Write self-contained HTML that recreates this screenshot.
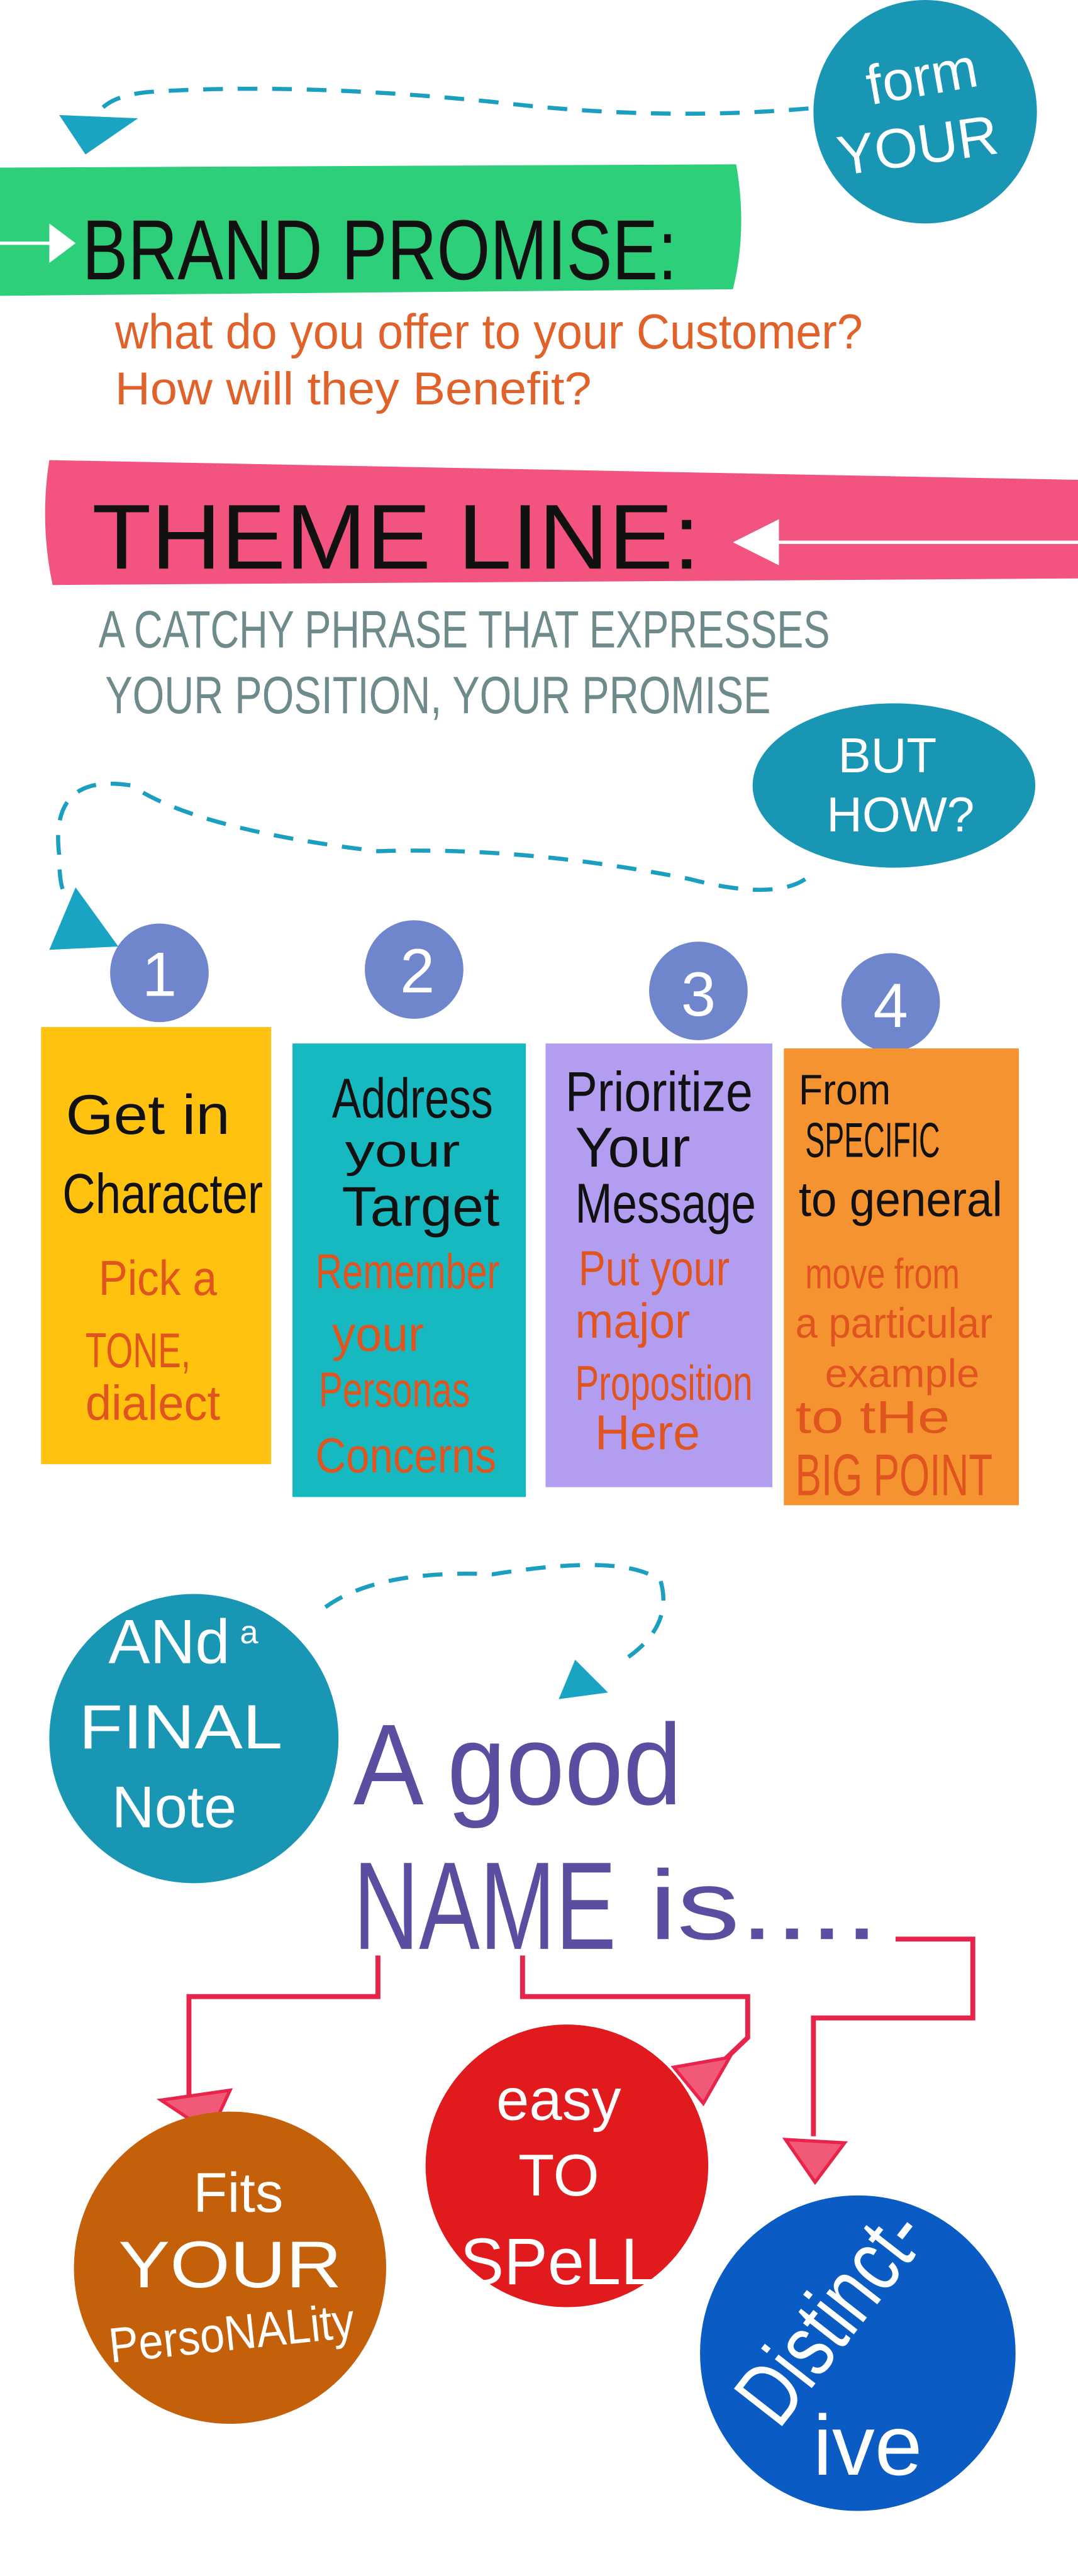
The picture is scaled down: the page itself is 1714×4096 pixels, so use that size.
<!DOCTYPE html>
<html><head><meta charset="utf-8">
<style>
html,body{margin:0;padding:0;background:#fff;}
svg{display:block;}
text{font-family:"Liberation Sans",sans-serif;}
</style></head>
<body>
<svg width="1714" height="4096" viewBox="0 0 656 1567.6" preserveAspectRatio="none" xmlns="http://www.w3.org/2000/svg">
<rect width="656" height="1568" fill="#fff"/>

<circle cx="563" cy="68" r="68" fill="#1a96b5"/>
<text x="563" y="58" fill="#fff" font-size="34" text-anchor="middle" transform="rotate(-10 563 58)">form</text>
<text x="560" y="100" fill="#fff" font-size="34" text-anchor="middle" transform="rotate(-8 560 100)">YOUR</text>
<path d="M492 66 Q400 74 300 62 Q180 50 90 56 Q70 58 62 66" fill="none" stroke="#1a9fc0" stroke-width="2.5" stroke-dasharray="12 9"/>
<polygon points="36,70 84,72 52,94" fill="#1aa4c4"/>

<path d="M0 102 L448 100 Q455 140 446 176 L0 180 Z" fill="#2ecf7a"/>
<line x1="0" y1="148" x2="34" y2="148" stroke="#fff" stroke-width="2"/>
<polygon points="30,136 46,148 30,160" fill="#fff"/>
<text x="50" y="170" font-size="52" fill="#111" textLength="362" lengthAdjust="spacingAndGlyphs">BRAND PROMISE:</text>
<text x="70" y="212" font-size="30" fill="#e0622a" textLength="455" lengthAdjust="spacingAndGlyphs">what do you offer to your Customer?</text>
<text x="70" y="246" font-size="28" fill="#e0622a" textLength="290" lengthAdjust="spacingAndGlyphs">How will they Benefit?</text>

<path d="M30 280 L656 292 L656 352 L32 356 Q24 318 30 280 Z" fill="#f2547f"/>
<text x="56" y="346" font-size="56" fill="#111" textLength="370" lengthAdjust="spacingAndGlyphs">THEME LINE:</text>
<polygon points="446,330 474,316 474,344" fill="#fff"/>
<line x1="474" y1="330" x2="656" y2="330" stroke="#fff" stroke-width="2"/>
<text x="60" y="394" font-size="32" fill="#6e8a8a" textLength="445" lengthAdjust="spacingAndGlyphs">A CATCHY PHRASE THAT EXPRESSES</text>
<text x="64" y="434" font-size="32" fill="#6e8a8a" textLength="405" lengthAdjust="spacingAndGlyphs">YOUR POSITION, YOUR PROMISE</text>

<ellipse cx="544" cy="478" rx="86" ry="50" fill="#1a96b5"/>
<text x="540" y="470" font-size="30" fill="#fff" text-anchor="middle">BUT</text>
<text x="548" y="506" font-size="30" fill="#fff" text-anchor="middle">HOW?</text>
<path d="M490 535 Q470 548 420 535 Q320 515 230 518 Q120 505 80 478 Q30 470 36 520 Q36 540 40 545" fill="none" stroke="#1a9fc0" stroke-width="2.5" stroke-dasharray="12 9"/>
<polygon points="46,540 72,576 30,578" fill="#1aa4c4"/>

<circle cx="97" cy="592" r="30" fill="#6f86cc"/>
<text x="97" y="606" font-size="38" fill="#fff" text-anchor="middle">1</text>
<circle cx="252" cy="590" r="30" fill="#6f86cc"/>
<text x="254" y="604" font-size="38" fill="#fff" text-anchor="middle">2</text>
<circle cx="425" cy="603" r="30" fill="#6f86cc"/>
<text x="425" y="618" font-size="38" fill="#fff" text-anchor="middle">3</text>
<circle cx="542" cy="610" r="30" fill="#6f86cc"/>
<text x="542" y="625" font-size="38" fill="#fff" text-anchor="middle">4</text>

<rect x="25" y="625" width="140" height="266" fill="#ffc20e"/>
<rect x="178" y="635" width="142" height="276" fill="#17b9c1"/>
<rect x="332" y="635" width="138" height="270" fill="#b39df0"/>
<rect x="477" y="638" width="143" height="278" fill="#f59331"/>

<g fill="#111" font-size="34">
<text x="40" y="690" textLength="100" lengthAdjust="spacingAndGlyphs">Get in</text>
<text x="38" y="738" textLength="122" lengthAdjust="spacingAndGlyphs">Character</text>
<text x="202" y="680" textLength="98" lengthAdjust="spacingAndGlyphs">Address</text>
<text x="210" y="710" font-size="28" textLength="70" lengthAdjust="spacingAndGlyphs">your</text>
<text x="208" y="746" textLength="96" lengthAdjust="spacingAndGlyphs">Target</text>
<text x="344" y="676" textLength="114" lengthAdjust="spacingAndGlyphs">Prioritize</text>
<text x="350" y="710" textLength="70" lengthAdjust="spacingAndGlyphs">Your</text>
<text x="350" y="744" textLength="110" lengthAdjust="spacingAndGlyphs">Message</text>
<text x="486" y="672" font-size="26" textLength="56" lengthAdjust="spacingAndGlyphs">From</text>
<text x="490" y="704" font-size="30" textLength="82" lengthAdjust="spacingAndGlyphs">SPECIFIC</text>
<text x="486" y="740" font-size="30" textLength="124" lengthAdjust="spacingAndGlyphs">to general</text>
</g>
<g fill="#e0551f" font-size="30">
<text x="60" y="788" textLength="72" lengthAdjust="spacingAndGlyphs">Pick a</text>
<text x="52" y="832" textLength="64" lengthAdjust="spacingAndGlyphs">TONE,</text>
<text x="52" y="864" textLength="82" lengthAdjust="spacingAndGlyphs">dialect</text>
<text x="192" y="784" textLength="112" lengthAdjust="spacingAndGlyphs">Remember</text>
<text x="202" y="822" textLength="56" lengthAdjust="spacingAndGlyphs">your</text>
<text x="194" y="856" textLength="92" lengthAdjust="spacingAndGlyphs">Personas</text>
<text x="192" y="896" textLength="110" lengthAdjust="spacingAndGlyphs">Concerns</text>
<text x="352" y="782" textLength="92" lengthAdjust="spacingAndGlyphs">Put your</text>
<text x="350" y="814" textLength="70" lengthAdjust="spacingAndGlyphs">major</text>
<text x="350" y="852" textLength="108" lengthAdjust="spacingAndGlyphs">Proposition</text>
<text x="362" y="882" textLength="64" lengthAdjust="spacingAndGlyphs">Here</text>
<text x="490" y="784" font-size="26" textLength="94" lengthAdjust="spacingAndGlyphs">move from</text>
<text x="484" y="814" font-size="26" textLength="120" lengthAdjust="spacingAndGlyphs">a particular</text>
<text x="502" y="844" font-size="24" textLength="94" lengthAdjust="spacingAndGlyphs">example</text>
<text x="484" y="872" font-size="28" textLength="94" lengthAdjust="spacingAndGlyphs">to tHe</text>
<text x="484" y="910" font-size="36" textLength="120" lengthAdjust="spacingAndGlyphs">BIG POINT</text>
</g>

<circle cx="118" cy="1058" r="88" fill="#1a96b5"/>
<text x="66" y="1012" font-size="38" fill="#fff">ANd</text>
<text x="146" y="1000" font-size="20" fill="#fff">a</text>
<text x="48" y="1064" font-size="38" fill="#fff" textLength="124" lengthAdjust="spacingAndGlyphs">FINAL</text>
<text x="68" y="1112" font-size="36" fill="#fff">Note</text>
<path d="M198 978 Q230 955 300 958 Q380 945 402 962 Q410 990 380 1010" fill="none" stroke="#1a9fc0" stroke-width="2.5" stroke-dasharray="12 9"/>
<polygon points="350,1010 370,1030 340,1034" fill="#1aa4c4"/>

<text x="215" y="1098" font-size="70" fill="#5a4ea0" textLength="200" lengthAdjust="spacingAndGlyphs">A good</text>
<text x="215" y="1186" font-size="76" fill="#5a4ea0" textLength="160" lengthAdjust="spacingAndGlyphs">NAME</text>
<text x="395" y="1180" font-size="60" fill="#5a4ea0" textLength="140" lengthAdjust="spacingAndGlyphs">is....</text>

<g fill="none" stroke="#e8244a" stroke-width="3">
<path d="M230 1190 L230 1215 L115 1215 L115 1275"/>
<path d="M318 1190 L318 1215 L455 1215 L455 1240 L432 1262"/>
<path d="M545 1180 L592 1180 L592 1228 L495 1228 L495 1300"/>
</g>
<polygon points="98,1278 140,1272 128,1298" fill="#f05a78" stroke="#e8244a" stroke-width="2"/>
<polygon points="410,1258 444,1252 428,1280" fill="#f05a78" stroke="#e8244a" stroke-width="2"/>
<polygon points="478,1302 514,1304 496,1328" fill="#f05a78" stroke="#e8244a" stroke-width="2"/>

<circle cx="140" cy="1380" r="95" fill="#c45f0a"/>
<text x="145" y="1346" font-size="34" fill="#fff" text-anchor="middle">Fits</text>
<text x="140" y="1392" font-size="40" fill="#fff" text-anchor="middle" textLength="136" lengthAdjust="spacingAndGlyphs">YOUR</text>
<text x="142" y="1430" font-size="30" fill="#fff" text-anchor="middle" textLength="150" lengthAdjust="spacingAndGlyphs" transform="rotate(-6 142 1430)">PersoNALity</text>

<circle cx="345" cy="1318" r="86" fill="#e11a1e"/>
<text x="340" y="1290" font-size="36" fill="#fff" text-anchor="middle">easy</text>
<text x="340" y="1336" font-size="36" fill="#fff" text-anchor="middle">TO</text>
<text x="340" y="1390" font-size="40" fill="#fff" text-anchor="middle">SPeLL</text>

<circle cx="522" cy="1432" r="96" fill="#0a5bc4"/>
<text x="520" y="1420" font-size="54" fill="#fff" text-anchor="middle" textLength="150" lengthAdjust="spacingAndGlyphs" transform="rotate(-52 520 1420)">Distinct-</text>
<text x="528" y="1506" font-size="52" fill="#fff" text-anchor="middle">ive</text>
</svg>
</body></html>
